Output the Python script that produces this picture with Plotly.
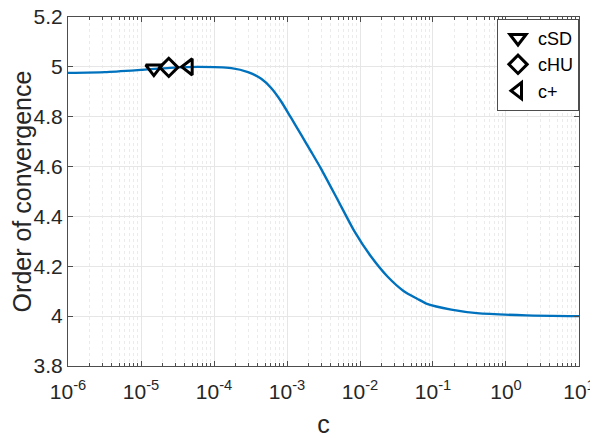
import plotly.graph_objects as go

# curve (c on log scale, order of convergence)
c_vals = [1e-6, 3.2e-6, 1e-5, 2.5e-5, 6.1e-5, 1.73e-4, 2.92e-4, 4.44e-4, 6.07e-4,
          8.32e-4, 1.14e-3, 1.56e-3, 2.13e-3, 2.92e-3, 4.92e-3, 8.32e-3, 1.40e-2,
          2.36e-2, 3.99e-2, 6.05e-2, 8.28e-2, 0.178, 0.398, 1.91, 10.0]
order_vals = [4.976, 4.979, 4.988, 4.996, 5.0, 4.995, 4.979, 4.952, 4.915,
              4.861, 4.795, 4.728, 4.661, 4.592, 4.468, 4.342, 4.241,
              4.160, 4.100, 4.070, 4.049, 4.026, 4.012, 4.003, 4.0]

# marked parameter choices
marker_names = ['cSD', 'cHU', 'c+']
marker_c = [1.5e-5, 2.4e-5, 4.5e-5]
marker_order = [4.993, 4.998, 5.0]
marker_symbols = ['triangle-down-open', 'diamond-open', 'triangle-left-open']

x_ticks = [1e-6, 1e-5, 1e-4, 1e-3, 1e-2, 1e-1, 1e0, 1e1]
x_ticktext = ['10<sup>-6</sup>', '10<sup>-5</sup>', '10<sup>-4</sup>', '10<sup>-3</sup>',
              '10<sup>-2</sup>', '10<sup>-1</sup>', '10<sup>0</sup>', '10<sup>1</sup>']
y_ticks = [3.8, 4.0, 4.2, 4.4, 4.6, 4.8, 5.0, 5.2]
y_ticktext = ['3.8', '4', '4.2', '4.4', '4.6', '4.8', '5', '5.2']
minor_vals = [m * d for d in x_ticks[:-1] for m in range(2, 10)]

fig = go.Figure()
fig.add_trace(go.Scatter(x=c_vals, y=order_vals, mode='lines',
                         line=dict(color='#0072BD', width=2.4, shape='spline', smoothing=0.6),
                         showlegend=False, hoverinfo='skip'))
for name, cx, oy, sym in zip(marker_names, marker_c, marker_order, marker_symbols):
    fig.add_trace(go.Scatter(x=[cx], y=[oy], mode='markers', name=name,
                             marker=dict(symbol=sym, size=14, color='black', line=dict(width=3, color='black'))))

axis_common = dict(showline=True, linecolor='#4d4d4d', linewidth=1, mirror='ticks', ticks='inside',
                   tickcolor='#4d4d4d', ticklen=5, gridcolor='#E6E6E6', gridwidth=1, zeroline=False,
                   automargin=False, ticklabeloverflow='allow',
                   tickfont=dict(size=21, color='#262626', family='Liberation Sans'))

fig.update_xaxes(type='log', range=[-6.0002, 1.0002], tickmode='array', tickvals=x_ticks, ticktext=x_ticktext,
                 ticklabelstandoff=7,
                 minor=dict(tickmode='array', tickvals=minor_vals, showgrid=True, gridcolor='#EBEBEB',
                            griddash='dot', ticks='inside', ticklen=3, tickcolor='#4d4d4d'),
                 title=dict(text='c', font=dict(size=25, color='#262626', family='Liberation Sans'), standoff=14),
                 **axis_common)
fig.update_yaxes(range=[3.7999, 5.2001], tickmode='array', tickvals=y_ticks, ticktext=y_ticktext,
                 title=dict(text='Order of convergence', font=dict(size=25, color='#262626', family='Liberation Sans'),
                            standoff=15),
                 **axis_common)

# page has an 8px body margin, so the figure is a bit smaller than the window
fig.update_layout(width=590, height=430, plot_bgcolor='white', paper_bgcolor='white',
                  margin=dict(l=60, r=19, t=9, b=72),
                  legend=dict(x=1.0, y=0.995, xanchor='right', yanchor='top', bgcolor='white',
                              bordercolor='#4d4d4d', borderwidth=1,
                              font=dict(size=18, color='black', family='Liberation Sans'),
                              itemwidth=30, tracegroupgap=0))
fig.write_html("out.html")
